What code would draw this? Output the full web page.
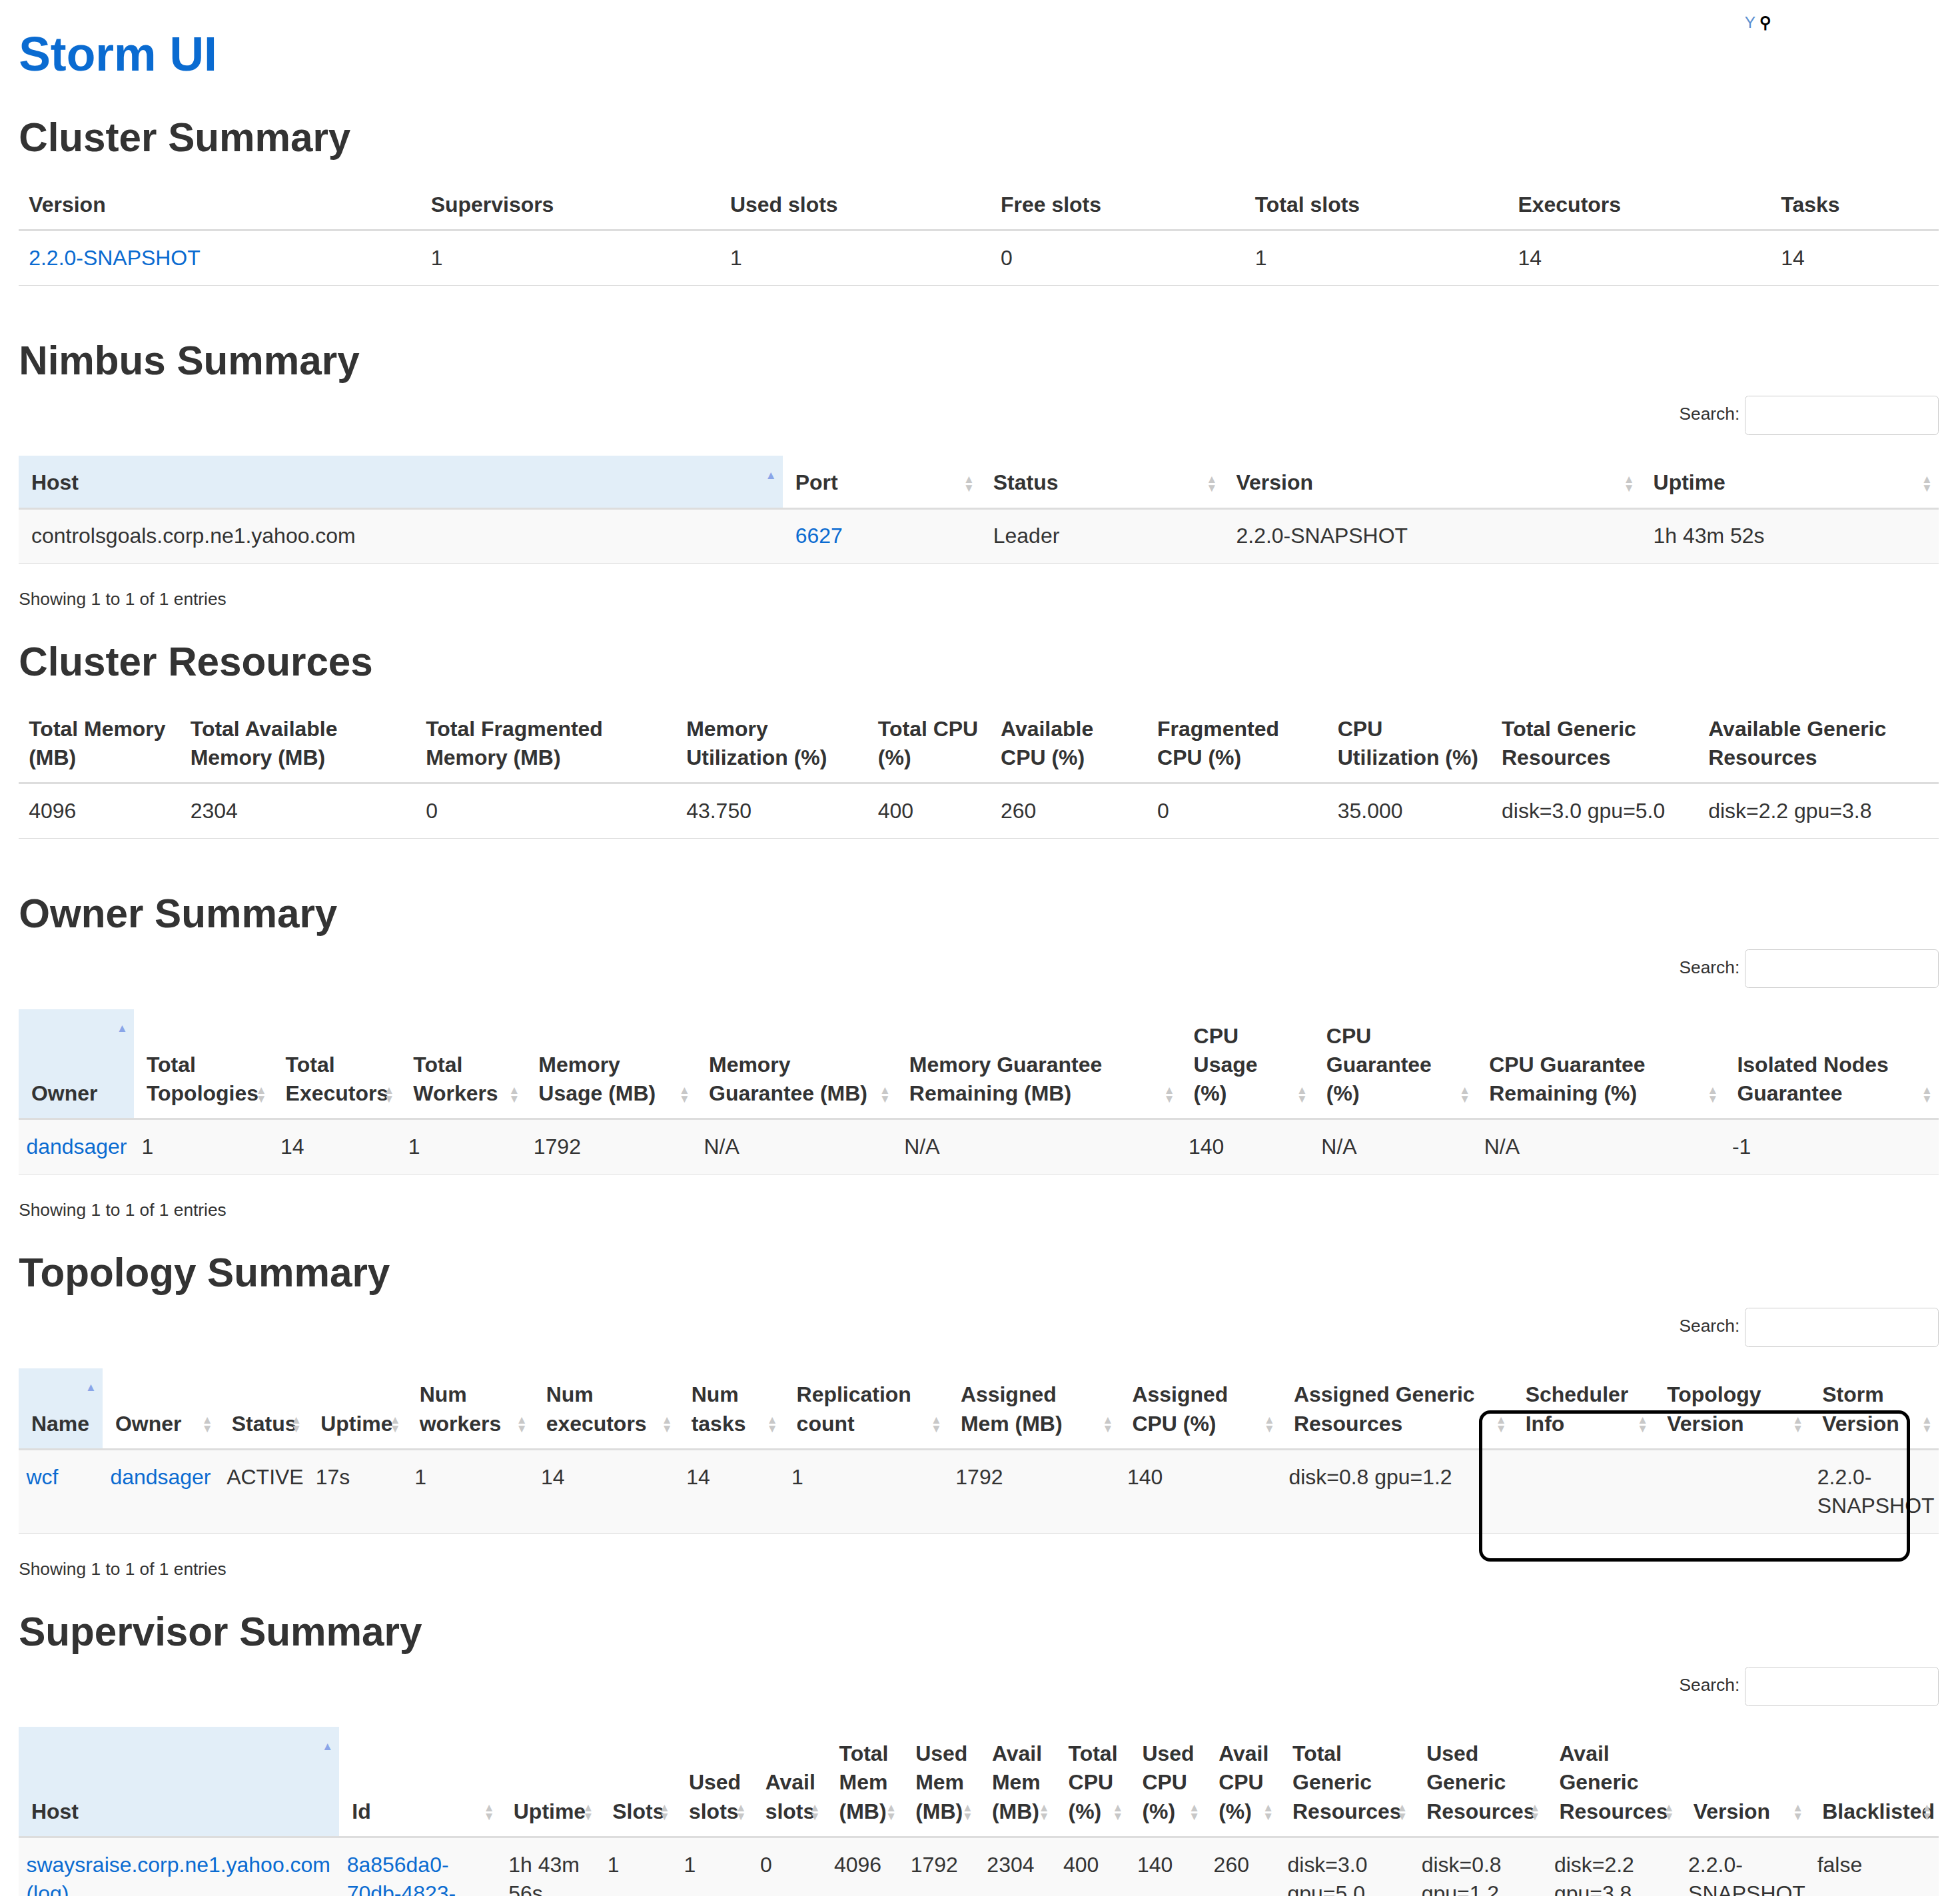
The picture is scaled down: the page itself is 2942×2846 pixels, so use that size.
<!DOCTYPE html>
<html>
<head>
<meta charset="utf-8">
<script src="https://cdn.jsdelivr.net/npm/chart.js@4.4.1/dist/chart.umd.min.js"></script>
<style>
  html { zoom: 1.88; }
  body { margin: 0; font-family: "Liberation Sans", Arial, sans-serif; color: #333; font-size: 17px; background: #fff; }
  #page { position: relative; margin-left: 15px; width: 1533px; }
  h1 { color: #0a6bd1; font-size: 38px; margin: 0; padding-top: 20px; height: 48px; line-height: 46px; }
  h2 { font-size: 32px; margin: 0; line-height: 40px; }
  table { border-collapse: collapse; table-layout: fixed; width: 1533px; }
  th { font-weight: bold; text-align: left; vertical-align: bottom; padding: 10px 8px 8px 8px; line-height: 23px; border-bottom: 2px solid #ddd; position: relative; }
  td { padding: 10px 8px; line-height: 23px; vertical-align: top; border-bottom: 1px solid #ddd; }
  a { color: #0a6bd1; text-decoration: none; }
  .dt th { padding-right: 14px; }
  .dt th.sorted { background: #e2eef8; }
  .dt td { padding-left: 6px; }
  .dt.pad td { padding-left: 10px; }
  .dt tbody tr { background: #f9f9f9; }
  .sort { position: absolute; right: 5px; bottom: 12px; font-size: 9px; line-height: 7px; color: #c8c8c8; }
  .sort.on { color: #8aa5e8; top: 12px; bottom: auto; }
  .search { text-align: right; height: 42px; font-size: 14px; margin-bottom: 6px; }
  .search input { width: 150px; height: 28px; border: 1px solid #ccc; border-radius: 3px; margin-left: 4px; vertical-align: middle; }
  .info { font-size: 14px; margin: 20px 0 22px; }
  .box { position: absolute; border: 3px solid #000; border-radius: 9px; box-sizing: border-box; }
  #icons { position: absolute; left: 1378px; top: 10px; font-size: 13px; color: #5a8fd0; }
</style>
</head>
<body>
<div id="page">
  <div id="icons">Y <b style="color:#000">&#9906;</b></div>
  <h1>Storm UI</h1>
  <div id="content"></div>
</div>
<script>
const clusterHeaders = ['Version', 'Supervisors', 'Used slots', 'Free slots', 'Total slots', 'Executors', 'Tasks'];
const clusterWidths = [321, 239, 216, 203, 210, 210, 134];
const clusterRow = ['@2.2.0-SNAPSHOT', '1', '1', '0', '1', '14', '14'];

const nimbusHeaders = ['Host', 'Port', 'Status', 'Version', 'Uptime'];
const nimbusWidths = [610, 158, 194, 333, 238];
const nimbusRow = ['controlsgoals.corp.ne1.yahoo.com', '@6627', 'Leader', '2.2.0-SNAPSHOT', '1h 43m 52s'];

const resHeaders = ['Total Memory (MB)', 'Total Available Memory (MB)', 'Total Fragmented Memory (MB)', 'Memory Utilization (%)', 'Total CPU (%)', 'Available CPU (%)', 'Fragmented CPU (%)', 'CPU Utilization (%)', 'Total Generic Resources', 'Available Generic Resources'];
const resWidths = [129, 188, 208, 153, 98, 125, 144, 131, 165, 192];
const resRow = ['4096', '2304', '0', '43.750', '400', '260', '0', '35.000', 'disk=3.0 gpu=5.0', 'disk=2.2 gpu=3.8'];

const ownerHeaders = ['Owner', 'Total Topologies', 'Total Executors', 'Total Workers', 'Memory Usage (MB)', 'Memory Guarantee (MB)', 'Memory Guarantee Remaining (MB)', 'CPU Usage (%)', 'CPU Guarantee (%)', 'CPU Guarantee Remaining (%)', 'Isolated Nodes Guarantee'];
const ownerWidths = [92, 111, 102, 100, 136, 160, 227, 106, 130, 198, 171];
const ownerRow = ['@dandsager', '1', '14', '1', '1792', 'N/A', 'N/A', '140', 'N/A', 'N/A', '-1'];

const topoHeaders = ['Name', 'Owner', 'Status', 'Uptime', 'Num workers', 'Num executors', 'Num tasks', 'Replication count', 'Assigned Mem (MB)', 'Assigned CPU (%)', 'Assigned Generic Resources', 'Scheduler Info', 'Topology Version', 'Storm Version'];
const topoWidths = [67, 93, 71, 79, 101, 116, 84, 131, 137, 129, 185, 113, 124, 103];
const topoRow = ['@wcf', '@dandsager', 'ACTIVE', '17s', '1', '14', '14', '1', '1792', '140', 'disk=0.8 gpu=1.2', '', '', '2.2.0-SNAPSHOT'];

const supHeaders = ['Host', 'Id', 'Uptime', 'Slots', 'Used slots', 'Avail slots', 'Total Mem (MB)', 'Used Mem (MB)', 'Avail Mem (MB)', 'Total CPU (%)', 'Used CPU (%)', 'Avail CPU (%)', 'Total Generic Resources', 'Used Generic Resources', 'Avail Generic Resources', 'Version', 'Blacklisted'];
const supWidths = [256, 129, 79, 61, 61, 59, 61, 61, 61, 59, 61, 59, 107, 106, 107, 103, 103];
const supRow = ['@swaysraise.corp.ne1.yahoo.com (log)', '@8a856da0-70db-4823-b650-7a573b8e41bf-10.88.211.119', '1h 43m 56s', '1', '1', '0', '4096', '1792', '2304', '400', '140', '260', 'disk=3.0 gpu=5.0', 'disk=0.8 gpu=1.2', 'disk=2.2 gpu=3.8', '2.2.0-SNAPSHOT', 'false'];

const content = document.getElementById('content');

function cell(v) {
  return v.startsWith('@') ? '<a>' + v.slice(1) + '</a>' : v;
}

function table(headers, widths, row, dt, extra) {
  let h = '<table class="' + (dt ? 'dt ' : '') + (extra || '') + '"><colgroup>';
  widths.forEach(w => h += '<col style="width:' + w + 'px">');
  h += '</colgroup><thead><tr>';
  headers.forEach((t, i) => {
    const sorted = dt && i === 0;
    h += '<th class="' + (sorted ? 'sorted' : '') + '"' + (dt ? ' style="padding-left:10px"' : '') + '>' + t;
    if (dt) h += sorted ? '<span class="sort on">&#9650;</span>' : '<span class="sort">&#9650;<br>&#9660;</span>';
    h += '</th>';
  });
  h += '</tr></thead><tbody><tr>';
  row.forEach(v => h += '<td>' + cell(v) + '</td>');
  h += '</tr></tbody></table>';
  return h;
}

function section(title, headers, widths, row, dt, gapTop, extra) {
  let h = '<h2 style="margin-top:' + gapTop + 'px;margin-bottom:' + (dt ? 8 : 12) + 'px">' + title + '</h2>';
  if (dt) h += '<div class="search">Search:<input></div>';
  h += table(headers, widths, row, dt, extra);
  if (dt) h += '<div class="info">Showing 1 to 1 of 1 entries</div>';
  return h;
}

content.innerHTML =
  section('Cluster Summary', clusterHeaders, clusterWidths, clusterRow, false, 22) +
  section('Nimbus Summary', nimbusHeaders, nimbusWidths, nimbusRow, true, 40, 'pad') +
  section('Cluster Resources', resHeaders, resWidths, resRow, false, 0) +
  section('Owner Summary', ownerHeaders, ownerWidths, ownerRow, true, 40) +
  section('Topology Summary', topoHeaders, topoWidths, topoRow, true, 0) +
  section('Supervisor Summary', supHeaders, supWidths, supRow, true, 0);

// outline boxes around generic resource columns (offsets in CSS px, unaffected by zoom)
const page = document.getElementById('page');
const tables = document.querySelectorAll('table');
function box(t, from, to, dl, dr, dtop, height) {
  const ths = t.querySelectorAll('th');
  const a = ths[from], b = ths[to];
  const left = t.offsetLeft + a.offsetLeft + dl;
  const right = t.offsetLeft + b.offsetLeft + b.offsetWidth + dr;
  const d = document.createElement('div');
  d.className = 'box';
  d.style.left = left + 'px';
  d.style.top = (t.offsetTop + a.offsetTop + dtop) + 'px';
  d.style.width = (right - left) + 'px';
  d.style.height = height + 'px';
  page.appendChild(d);
}
box(tables[2], 8, 9, -10, -23, 4, 121);
box(tables[4], 10, 10, -6, -14, 2, 116);
box(tables[5], 12, 14, -6, 0, 2, 152);
</script>
</body>
</html>
